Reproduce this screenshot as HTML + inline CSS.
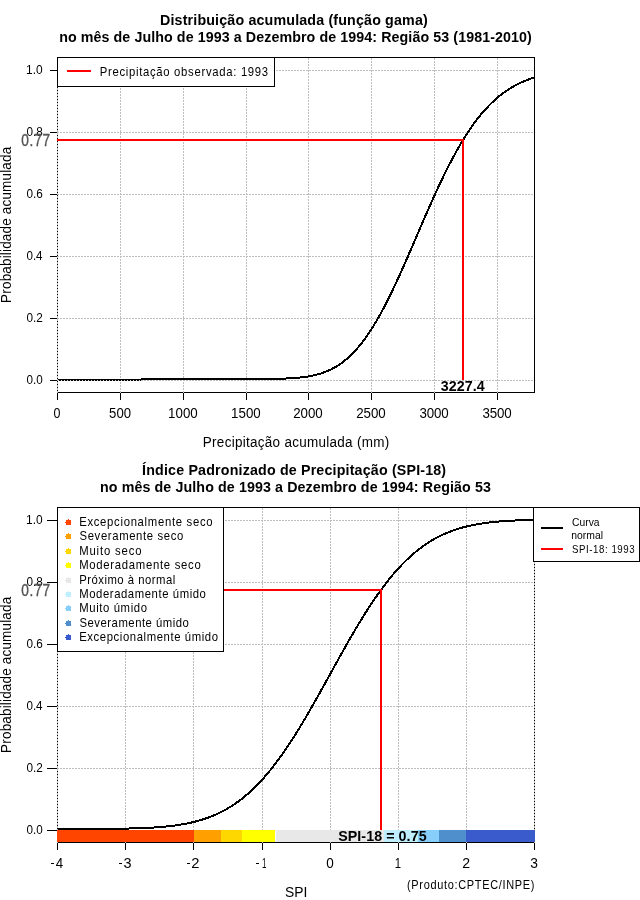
<!DOCTYPE html><html><head><meta charset="utf-8"><style>html,body{margin:0;padding:0;background:#fff;}svg{display:block;}text{font-family:"Liberation Sans",sans-serif;white-space:pre;}</style></head><body>
<svg style="will-change:transform" width="640" height="900" viewBox="0 0 640 900">
<rect width="640" height="900" fill="#fff"/>
<line x1="57" y1="57.5" x2="535" y2="57.5" stroke="#000" stroke-width="1"/>
<line x1="57" y1="392.5" x2="535" y2="392.5" stroke="#000" stroke-width="1"/>
<line x1="57.5" y1="57" x2="57.5" y2="393" stroke="#000" stroke-width="1"/>
<line x1="534.5" y1="57" x2="534.5" y2="393" stroke="#000" stroke-width="1"/>
<line x1="57.5" y1="57" x2="57.5" y2="393" stroke="#bebebe" stroke-width="1" stroke-dasharray="2 1" stroke-dashoffset="2"/>
<line x1="120.5" y1="57" x2="120.5" y2="393" stroke="#bebebe" stroke-width="1" stroke-dasharray="2 1" stroke-dashoffset="2"/>
<line x1="183.5" y1="57" x2="183.5" y2="393" stroke="#bebebe" stroke-width="1" stroke-dasharray="2 1" stroke-dashoffset="2"/>
<line x1="246.5" y1="57" x2="246.5" y2="393" stroke="#bebebe" stroke-width="1" stroke-dasharray="2 1" stroke-dashoffset="2"/>
<line x1="308.5" y1="57" x2="308.5" y2="393" stroke="#bebebe" stroke-width="1" stroke-dasharray="2 1" stroke-dashoffset="2"/>
<line x1="371.5" y1="57" x2="371.5" y2="393" stroke="#bebebe" stroke-width="1" stroke-dasharray="2 1" stroke-dashoffset="2"/>
<line x1="434.5" y1="57" x2="434.5" y2="393" stroke="#bebebe" stroke-width="1" stroke-dasharray="2 1" stroke-dashoffset="2"/>
<line x1="497.5" y1="57" x2="497.5" y2="393" stroke="#bebebe" stroke-width="1" stroke-dasharray="2 1" stroke-dashoffset="2"/>
<line x1="57" y1="70.5" x2="534" y2="70.5" stroke="#bebebe" stroke-width="1" stroke-dasharray="2 1"/>
<line x1="57" y1="132.5" x2="534" y2="132.5" stroke="#bebebe" stroke-width="1" stroke-dasharray="2 1"/>
<line x1="57" y1="194.5" x2="534" y2="194.5" stroke="#bebebe" stroke-width="1" stroke-dasharray="2 1"/>
<line x1="57" y1="256.5" x2="534" y2="256.5" stroke="#bebebe" stroke-width="1" stroke-dasharray="2 1"/>
<line x1="57" y1="318.5" x2="534" y2="318.5" stroke="#bebebe" stroke-width="1" stroke-dasharray="2 1"/>
<line x1="57" y1="380.5" x2="534" y2="380.5" stroke="#bebebe" stroke-width="1" stroke-dasharray="2 1"/>
<line x1="50" y1="70.5" x2="57" y2="70.5" stroke="#000" stroke-width="1"/>
<line x1="50" y1="132.5" x2="57" y2="132.5" stroke="#000" stroke-width="1"/>
<line x1="50" y1="194.5" x2="57" y2="194.5" stroke="#000" stroke-width="1"/>
<line x1="50" y1="256.5" x2="57" y2="256.5" stroke="#000" stroke-width="1"/>
<line x1="50" y1="318.5" x2="57" y2="318.5" stroke="#000" stroke-width="1"/>
<line x1="50" y1="380.5" x2="57" y2="380.5" stroke="#000" stroke-width="1"/>
<line x1="57.5" y1="393" x2="57.5" y2="400" stroke="#000" stroke-width="1"/>
<line x1="120.5" y1="393" x2="120.5" y2="400" stroke="#000" stroke-width="1"/>
<line x1="183.5" y1="393" x2="183.5" y2="400" stroke="#000" stroke-width="1"/>
<line x1="246.5" y1="393" x2="246.5" y2="400" stroke="#000" stroke-width="1"/>
<line x1="308.5" y1="393" x2="308.5" y2="400" stroke="#000" stroke-width="1"/>
<line x1="371.5" y1="393" x2="371.5" y2="400" stroke="#000" stroke-width="1"/>
<line x1="434.5" y1="393" x2="434.5" y2="400" stroke="#000" stroke-width="1"/>
<line x1="497.5" y1="393" x2="497.5" y2="400" stroke="#000" stroke-width="1"/>
<text x="26.06" y="74.00" font-size="13" font-weight="normal" fill="#000" textLength="16.61" lengthAdjust="spacingAndGlyphs" >1.0</text>
<text x="26.43" y="136.00" font-size="13" font-weight="normal" fill="#000" textLength="16.36" lengthAdjust="spacingAndGlyphs" >0.8</text>
<text x="26.43" y="198.00" font-size="13" font-weight="normal" fill="#000" textLength="16.36" lengthAdjust="spacingAndGlyphs" >0.6</text>
<text x="26.44" y="260.00" font-size="13" font-weight="normal" fill="#000" textLength="16.11" lengthAdjust="spacingAndGlyphs" >0.4</text>
<text x="26.43" y="322.00" font-size="13" font-weight="normal" fill="#000" textLength="16.36" lengthAdjust="spacingAndGlyphs" >0.2</text>
<text x="26.43" y="384.00" font-size="13" font-weight="normal" fill="#000" textLength="16.23" lengthAdjust="spacingAndGlyphs" >0.0</text>
<text x="53.60" y="418.00" font-size="15.3" font-weight="normal" fill="#000" textLength="6.95" lengthAdjust="spacingAndGlyphs" >0</text>
<text x="109.12" y="418.00" font-size="15.3" font-weight="normal" fill="#000" textLength="21.93" lengthAdjust="spacingAndGlyphs" >500</text>
<text x="0" y="0" transform="translate(167.99,418.00) scale(0.87,1)" font-size="15.3" font-weight="normal" fill="#000" textLength="34.23" lengthAdjust="spacing" >1000</text>
<text x="0" y="0" transform="translate(230.99,418.00) scale(0.87,1)" font-size="15.3" font-weight="normal" fill="#000" textLength="34.23" lengthAdjust="spacing" >1500</text>
<text x="0" y="0" transform="translate(293.26,418.00) scale(0.87,1)" font-size="15.3" font-weight="normal" fill="#000" textLength="33.83" lengthAdjust="spacing" >2000</text>
<text x="0" y="0" transform="translate(356.26,418.00) scale(0.87,1)" font-size="15.3" font-weight="normal" fill="#000" textLength="33.83" lengthAdjust="spacing" >2500</text>
<text x="0" y="0" transform="translate(419.39,418.00) scale(0.87,1)" font-size="15.3" font-weight="normal" fill="#000" textLength="33.62" lengthAdjust="spacing" >3000</text>
<text x="0" y="0" transform="translate(482.39,418.00) scale(0.87,1)" font-size="15.3" font-weight="normal" fill="#000" textLength="33.62" lengthAdjust="spacing" >3500</text>
<polyline points="141.00,379.00 141.79,379.00 142.58,379.00 143.37,379.00 144.15,379.00 144.94,379.00 145.73,379.00 146.52,379.00 147.31,379.00 148.10,379.00 148.88,379.00 149.67,379.00 150.46,379.00 151.25,379.00 152.04,379.00 152.83,379.00 153.61,379.00 154.40,379.00 155.19,379.00 155.98,379.00 156.77,379.00 157.56,379.00 158.34,379.00 159.13,379.00 159.92,379.00 160.71,379.00 161.50,379.00 162.29,379.00 163.07,379.00 163.86,379.00 164.65,379.00 165.44,379.00 166.23,379.00 167.02,379.00 167.80,379.00 168.59,379.00 169.38,379.00 170.17,379.00 170.96,379.00 171.75,379.00 172.53,379.00 173.32,379.00 174.11,379.00 174.90,379.00 175.69,379.00 176.48,379.00 177.26,379.00 178.05,379.00 178.84,379.00 179.63,379.00 180.42,379.00 181.21,379.00 181.99,379.00 182.78,379.00 183.57,379.00 184.36,379.00 185.15,379.00 185.94,379.00 186.72,379.00 187.51,379.00 188.30,379.00 189.09,379.00 189.88,379.00 190.67,379.00 191.45,379.00 192.24,379.00 193.03,379.00 193.82,379.00 194.61,379.00 195.40,379.00 196.18,379.00 196.97,379.00 197.76,379.00 198.55,379.00 199.34,379.00 200.13,379.00 200.91,379.00 201.70,379.00 202.49,379.00 203.28,379.00 204.07,379.00 204.86,379.00 205.64,379.00 206.43,379.00 207.22,379.00 208.01,379.00 208.80,379.00 209.59,379.00 210.37,379.00 211.16,379.00 211.95,379.00 212.74,379.00 213.53,379.00 214.32,379.00 215.10,379.00 215.89,379.00 216.68,379.00 217.47,379.00 218.26,379.00 219.05,379.00 219.83,379.00 220.62,379.00 221.41,379.00 222.20,379.00 222.99,379.00 223.78,379.00 224.56,379.00 225.35,379.00 226.14,379.00 226.93,379.00 227.72,379.00 228.51,379.00 229.29,379.00 230.08,379.00 230.87,379.00 231.66,379.00 232.45,379.00 233.24,379.00 234.02,379.00 234.81,379.00 235.60,379.00 236.39,379.00 237.18,379.00 237.97,379.00 238.75,379.00 239.54,379.00 240.33,379.00 241.12,379.00 241.91,379.00 242.70,378.99 243.48,378.99 244.27,378.99 245.06,378.99 245.85,378.99 246.64,378.99 247.43,378.99 248.21,378.99 249.00,378.99 249.79,378.99 250.58,378.99 251.37,378.98 252.16,378.98 252.94,378.98 253.73,378.98 254.52,378.98 255.31,378.98 256.10,378.97 256.89,378.97 257.67,378.97 258.46,378.97 259.25,378.96 260.04,378.96 260.83,378.96 261.62,378.95 262.40,378.95 263.19,378.94 263.98,378.94 264.77,378.93 265.56,378.93 266.35,378.92 267.13,378.91 267.92,378.91 268.71,378.90 269.50,378.89 270.29,378.88 271.08,378.87 271.86,378.86 272.65,378.85 273.44,378.84 274.23,378.83 275.02,378.81 275.81,378.80 276.59,378.78 277.38,378.77 278.17,378.75 278.96,378.73 279.75,378.71 280.54,378.69 281.32,378.67 282.11,378.65 282.90,378.62 283.69,378.60 284.48,378.57 285.27,378.54 286.05,378.51 286.84,378.47 287.63,378.44 288.42,378.40 289.21,378.36 290.00,378.32 290.78,378.28 291.57,378.23 292.36,378.18 293.15,378.13 293.94,378.08 294.73,378.02 295.51,377.96 296.30,377.90 297.09,377.83 297.88,377.76 298.67,377.68 299.46,377.61 300.24,377.53 301.03,377.44 301.82,377.35 302.61,377.26 303.40,377.16 304.19,377.06 304.97,376.95 305.76,376.84 306.55,376.72 307.34,376.59 308.13,376.47 308.92,376.33 309.70,376.19 310.49,376.04 311.28,375.89 312.07,375.73 312.86,375.57 313.65,375.39 314.43,375.21 315.22,375.03 316.01,374.83 316.80,374.63 317.59,374.42 318.38,374.20 319.16,373.97 319.95,373.74 320.74,373.49 321.53,373.24 322.32,372.97 323.11,372.70 323.89,372.42 324.68,372.13 325.47,371.82 326.26,371.51 327.05,371.19 327.84,370.85 328.62,370.50 329.41,370.15 330.20,369.78 330.99,369.39 331.78,369.00 332.57,368.59 333.35,368.18 334.14,367.74 334.93,367.30 335.72,366.84 336.51,366.37 337.30,365.88 338.08,365.38 338.87,364.87 339.66,364.34 340.45,363.80 341.24,363.24 342.03,362.67 342.81,362.08 343.60,361.48 344.39,360.86 345.18,360.22 345.97,359.57 346.76,358.90 347.54,358.22 348.33,357.52 349.12,356.80 349.91,356.07 350.70,355.32 351.49,354.55 352.27,353.76 353.06,352.96 353.85,352.14 354.64,351.30 355.43,350.44 356.22,349.57 357.00,348.68 357.79,347.77 358.58,346.84 359.37,345.90 360.16,344.93 360.95,343.95 361.73,342.95 362.52,341.93 363.31,340.90 364.10,339.84 364.89,338.77 365.68,337.68 366.46,336.57 367.25,335.44 368.04,334.29 368.83,333.13 369.62,331.94 370.41,330.74 371.19,329.52 371.98,328.29 372.77,327.03 373.56,325.76 374.35,324.47 375.14,323.16 375.92,321.84 376.71,320.50 377.50,319.14 378.29,317.77 379.08,316.37 379.87,314.97 380.65,313.54 381.44,312.10 382.23,310.65 383.02,309.17 383.81,307.69 384.60,306.19 385.38,304.67 386.17,303.14 386.96,301.59 387.75,300.03 388.54,298.46 389.33,296.87 390.11,295.27 390.90,293.66 391.69,292.03 392.48,290.39 393.27,288.74 394.06,287.08 394.84,285.41 395.63,283.73 396.42,282.03 397.21,280.33 398.00,278.62 398.79,276.89 399.58,275.16 400.36,273.42 401.15,271.67 401.94,269.91 402.73,268.15 403.52,266.37 404.31,264.60 405.09,262.81 405.88,261.02 406.67,259.22 407.46,257.42 408.25,255.61 409.04,253.80 409.82,251.99 410.61,250.17 411.40,248.35 412.19,246.52 412.98,244.70 413.77,242.87 414.55,241.04 415.34,239.21 416.13,237.38 416.92,235.54 417.71,233.71 418.50,231.88 419.28,230.05 420.07,228.22 420.86,226.39 421.65,224.57 422.44,222.74 423.23,220.92 424.01,219.11 424.80,217.30 425.59,215.49 426.38,213.68 427.17,211.88 427.96,210.09 428.74,208.30 429.53,206.52 430.32,204.74 431.11,202.97 431.90,201.20 432.69,199.45 433.47,197.70 434.26,195.96 435.05,194.22 435.84,192.50 436.63,190.78 437.42,189.08 438.20,187.38 438.99,185.69 439.78,184.01 440.57,182.35 441.36,180.69 442.15,179.04 442.93,177.41 443.72,175.78 444.51,174.17 445.30,172.57 446.09,170.98 446.88,169.40 447.66,167.83 448.45,166.28 449.24,164.74 450.03,163.21 450.82,161.70 451.61,160.20 452.39,158.71 453.18,157.23 453.97,155.77 454.76,154.32 455.55,152.89 456.34,151.47 457.12,150.07 457.91,148.67 458.70,147.30 459.49,145.93 460.28,144.59 461.07,143.25 461.85,141.93 462.64,140.63 463.43,139.34 464.22,138.07 465.01,136.81 465.80,135.56 466.58,134.33 467.37,133.12 468.16,131.92 468.95,130.73 469.74,129.56 470.53,128.41 471.31,127.27 472.10,126.14 472.89,125.03 473.68,123.94 474.47,122.86 475.26,121.79 476.04,120.74 476.83,119.71 477.62,118.69 478.41,117.68 479.20,116.69 479.99,115.71 480.77,114.75 481.56,113.81 482.35,112.87 483.14,111.95 483.93,111.05 484.72,110.16 485.50,109.28 486.29,108.42 487.08,107.57 487.87,106.74 488.66,105.92 489.45,105.11 490.23,104.32 491.02,103.54 491.81,102.77 492.60,102.02 493.39,101.28 494.18,100.55 494.96,99.84 495.75,99.14 496.54,98.45 497.33,97.77 498.12,97.11 498.91,96.46 499.69,95.82 500.48,95.19 501.27,94.57 502.06,93.97 502.85,93.37 503.64,92.79 504.42,92.22 505.21,91.66 506.00,91.11 506.79,90.58 507.58,90.05 508.37,89.53 509.15,89.03 509.94,88.53 510.73,88.05 511.52,87.57 512.31,87.11 513.10,86.65 513.88,86.21 514.67,85.77 515.46,85.34 516.25,84.92 517.04,84.52 517.83,84.11 518.61,83.72 519.40,83.34 520.19,82.97 520.98,82.60 521.77,82.24 522.56,81.89 523.34,81.55 524.13,81.22 524.92,80.89 525.71,80.57 526.50,80.26 527.29,79.95 528.07,79.66 528.86,79.37 529.65,79.08 530.44,78.80 531.23,78.53 532.02,78.27 532.80,78.01 533.59,77.76 534.38,77.52" fill="none" stroke="#000" stroke-width="2" stroke-linejoin="round" shape-rendering="crispEdges"/>
<rect x="58" y="379" width="83" height="2" fill="#000"/>
<line x1="57" y1="380.5" x2="141" y2="380.5" stroke="#d8d8d8" stroke-width="1" stroke-dasharray="1 2" stroke-dashoffset="2"/>
<rect x="57" y="139" width="407" height="2" fill="#ff0000"/>
<rect x="462" y="139" width="2" height="241" fill="#ff0000"/>
<rect x="57" y="57" width="218" height="30" fill="#fff"/>
<line x1="57" y1="57.5" x2="275" y2="57.5" stroke="#000" stroke-width="1"/>
<line x1="57" y1="86.5" x2="275" y2="86.5" stroke="#000" stroke-width="1"/>
<line x1="57.5" y1="57" x2="57.5" y2="87" stroke="#000" stroke-width="1"/>
<line x1="274.5" y1="57" x2="274.5" y2="87" stroke="#000" stroke-width="1"/>
<rect x="67" y="70" width="24" height="2" fill="#ff0000"/>
<text x="0" y="0" transform="translate(99.70,76.00) scale(0.87,1)" font-size="13" font-weight="normal" fill="#000" textLength="193.61" lengthAdjust="spacing" >Precipitação observada: 1993</text>
<text x="0" y="0" transform="translate(21.20,146.00) scale(0.87,1)" font-size="15.7" font-weight="normal" fill="#555" textLength="33.23" lengthAdjust="spacing" stroke="#555" stroke-width="0.35">0.77</text>
<text x="0" y="0" transform="translate(440.71,391.00) scale(0.92,1)" font-size="15.5" font-weight="bold" fill="#000" textLength="47.91" lengthAdjust="spacing" >3227.4</text>
<text x="0" y="0" transform="translate(160.00,25.00) scale(0.92,1)" font-size="15.5" font-weight="bold" fill="#000" textLength="291.02" lengthAdjust="spacing" >Distribuição acumulada (função gama)</text>
<text x="0" y="0" transform="translate(59.14,42.00) scale(0.92,1)" font-size="15.5" font-weight="bold" fill="#000" textLength="513.80" lengthAdjust="spacing" >no mês de Julho de 1993 a Dezembro de 1994: Região 53 (1981-2010)</text>
<text x="0" y="0" transform="translate(202.82,447.00) scale(0.87,1)" font-size="15.5" font-weight="normal" fill="#000" textLength="214.23" lengthAdjust="spacing" >Precipitação acumulada (mm)</text>
<text x="0" y="0" transform="translate(11.00,302.88) rotate(-90) scale(0.87,1)" font-size="15.5" font-weight="normal" fill="#000" textLength="179.40" lengthAdjust="spacing">Probabilidade acumulada</text>
<line x1="57" y1="507.5" x2="535" y2="507.5" stroke="#000" stroke-width="1"/>
<line x1="57" y1="842.5" x2="535" y2="842.5" stroke="#000" stroke-width="1"/>
<line x1="57.5" y1="507" x2="57.5" y2="843" stroke="#000" stroke-width="1"/>
<line x1="534.5" y1="507" x2="534.5" y2="843" stroke="#000" stroke-width="1"/>
<line x1="57.5" y1="507" x2="57.5" y2="843" stroke="#bebebe" stroke-width="1" stroke-dasharray="2 1" stroke-dashoffset="2"/>
<line x1="125.5" y1="507" x2="125.5" y2="843" stroke="#bebebe" stroke-width="1" stroke-dasharray="2 1" stroke-dashoffset="2"/>
<line x1="193.5" y1="507" x2="193.5" y2="843" stroke="#bebebe" stroke-width="1" stroke-dasharray="2 1" stroke-dashoffset="2"/>
<line x1="262.5" y1="507" x2="262.5" y2="843" stroke="#bebebe" stroke-width="1" stroke-dasharray="2 1" stroke-dashoffset="2"/>
<line x1="330.5" y1="507" x2="330.5" y2="843" stroke="#bebebe" stroke-width="1" stroke-dasharray="2 1" stroke-dashoffset="2"/>
<line x1="398.5" y1="507" x2="398.5" y2="843" stroke="#bebebe" stroke-width="1" stroke-dasharray="2 1" stroke-dashoffset="2"/>
<line x1="466.5" y1="507" x2="466.5" y2="843" stroke="#bebebe" stroke-width="1" stroke-dasharray="2 1" stroke-dashoffset="2"/>
<line x1="534.5" y1="507" x2="534.5" y2="843" stroke="#bebebe" stroke-width="1" stroke-dasharray="2 1" stroke-dashoffset="2"/>
<line x1="57" y1="520.5" x2="534" y2="520.5" stroke="#bebebe" stroke-width="1" stroke-dasharray="2 1"/>
<line x1="57" y1="582.5" x2="534" y2="582.5" stroke="#bebebe" stroke-width="1" stroke-dasharray="2 1"/>
<line x1="57" y1="644.5" x2="534" y2="644.5" stroke="#bebebe" stroke-width="1" stroke-dasharray="2 1"/>
<line x1="57" y1="706.5" x2="534" y2="706.5" stroke="#bebebe" stroke-width="1" stroke-dasharray="2 1"/>
<line x1="57" y1="768.5" x2="534" y2="768.5" stroke="#bebebe" stroke-width="1" stroke-dasharray="2 1"/>
<line x1="57" y1="830.5" x2="534" y2="830.5" stroke="#bebebe" stroke-width="1" stroke-dasharray="2 1"/>
<line x1="47" y1="520.5" x2="57" y2="520.5" stroke="#000" stroke-width="1"/>
<line x1="47" y1="582.5" x2="57" y2="582.5" stroke="#000" stroke-width="1"/>
<line x1="47" y1="644.5" x2="57" y2="644.5" stroke="#000" stroke-width="1"/>
<line x1="47" y1="706.5" x2="57" y2="706.5" stroke="#000" stroke-width="1"/>
<line x1="47" y1="768.5" x2="57" y2="768.5" stroke="#000" stroke-width="1"/>
<line x1="47" y1="830.5" x2="57" y2="830.5" stroke="#000" stroke-width="1"/>
<line x1="57.5" y1="843" x2="57.5" y2="850" stroke="#000" stroke-width="1"/>
<line x1="125.5" y1="843" x2="125.5" y2="850" stroke="#000" stroke-width="1"/>
<line x1="193.5" y1="843" x2="193.5" y2="850" stroke="#000" stroke-width="1"/>
<line x1="262.5" y1="843" x2="262.5" y2="850" stroke="#000" stroke-width="1"/>
<line x1="330.5" y1="843" x2="330.5" y2="850" stroke="#000" stroke-width="1"/>
<line x1="398.5" y1="843" x2="398.5" y2="850" stroke="#000" stroke-width="1"/>
<line x1="466.5" y1="843" x2="466.5" y2="850" stroke="#000" stroke-width="1"/>
<line x1="534.5" y1="843" x2="534.5" y2="850" stroke="#000" stroke-width="1"/>
<text x="26.06" y="524.00" font-size="13" font-weight="normal" fill="#000" textLength="16.61" lengthAdjust="spacingAndGlyphs" >1.0</text>
<text x="26.43" y="586.00" font-size="13" font-weight="normal" fill="#000" textLength="16.36" lengthAdjust="spacingAndGlyphs" >0.8</text>
<text x="26.43" y="648.00" font-size="13" font-weight="normal" fill="#000" textLength="16.36" lengthAdjust="spacingAndGlyphs" >0.6</text>
<text x="26.44" y="710.00" font-size="13" font-weight="normal" fill="#000" textLength="16.11" lengthAdjust="spacingAndGlyphs" >0.4</text>
<text x="26.43" y="772.00" font-size="13" font-weight="normal" fill="#000" textLength="16.36" lengthAdjust="spacingAndGlyphs" >0.2</text>
<text x="26.43" y="834.00" font-size="13" font-weight="normal" fill="#000" textLength="16.23" lengthAdjust="spacingAndGlyphs" >0.0</text>
<rect x="51" y="863" width="3" height="1" fill="#000"/>
<text x="55.73" y="868.00" font-size="15.3" font-weight="normal" fill="#000" textLength="7.41" lengthAdjust="spacingAndGlyphs" >4</text>
<rect x="119" y="863" width="3" height="1" fill="#000"/>
<text x="123.42" y="868.00" font-size="15.3" font-weight="normal" fill="#000" textLength="8.05" lengthAdjust="spacingAndGlyphs" >3</text>
<rect x="187" y="863" width="3" height="1" fill="#000"/>
<text x="191.26" y="868.00" font-size="15.3" font-weight="normal" fill="#000" textLength="8.22" lengthAdjust="spacingAndGlyphs" >2</text>
<rect x="256" y="863" width="3" height="1" fill="#000"/>
<text x="261.94" y="868.00" font-size="15.3" font-weight="normal" fill="#000" textLength="4.42" lengthAdjust="spacingAndGlyphs" >1</text>
<text x="326.31" y="868.00" font-size="15.3" font-weight="normal" fill="#000" textLength="7.53" lengthAdjust="spacingAndGlyphs" >0</text>
<text x="394.70" y="868.00" font-size="15.3" font-weight="normal" fill="#000" textLength="6.32" lengthAdjust="spacingAndGlyphs" >1</text>
<text x="462.14" y="868.00" font-size="15.3" font-weight="normal" fill="#000" textLength="7.86" lengthAdjust="spacingAndGlyphs" >2</text>
<text x="530.30" y="868.00" font-size="15.3" font-weight="normal" fill="#000" textLength="7.69" lengthAdjust="spacingAndGlyphs" >3</text>
<polyline points="57.50,828.99 58.46,828.99 59.41,828.99 60.37,828.99 61.32,828.99 62.28,828.99 63.24,828.99 64.19,828.99 65.15,828.98 66.10,828.98 67.06,828.98 68.02,828.98 68.97,828.98 69.93,828.98 70.88,828.98 71.84,828.98 72.79,828.98 73.75,828.97 74.71,828.97 75.66,828.97 76.62,828.97 77.57,828.97 78.53,828.97 79.49,828.96 80.44,828.96 81.40,828.96 82.35,828.96 83.31,828.95 84.27,828.95 85.22,828.95 86.18,828.95 87.13,828.94 88.09,828.94 89.05,828.94 90.00,828.93 90.96,828.93 91.91,828.93 92.87,828.92 93.82,828.92 94.78,828.91 95.74,828.91 96.69,828.90 97.65,828.90 98.60,828.89 99.56,828.89 100.52,828.88 101.47,828.88 102.43,828.87 103.38,828.86 104.34,828.86 105.30,828.85 106.25,828.84 107.21,828.83 108.16,828.83 109.12,828.82 110.08,828.81 111.03,828.80 111.99,828.79 112.94,828.78 113.90,828.77 114.85,828.75 115.81,828.74 116.77,828.73 117.72,828.72 118.68,828.70 119.63,828.69 120.59,828.67 121.55,828.66 122.50,828.64 123.46,828.62 124.41,828.61 125.37,828.59 126.33,828.57 127.28,828.55 128.24,828.53 129.19,828.50 130.15,828.48 131.11,828.46 132.06,828.43 133.02,828.41 133.97,828.38 134.93,828.35 135.88,828.32 136.84,828.29 137.80,828.26 138.75,828.23 139.71,828.19 140.66,828.16 141.62,828.12 142.58,828.08 143.53,828.04 144.49,828.00 145.44,827.96 146.40,827.91 147.36,827.87 148.31,827.82 149.27,827.77 150.22,827.71 151.18,827.66 152.14,827.60 153.09,827.55 154.05,827.49 155.00,827.42 155.96,827.36 156.92,827.29 157.87,827.22 158.83,827.15 159.78,827.07 160.74,827.00 161.69,826.91 162.65,826.83 163.61,826.75 164.56,826.66 165.52,826.56 166.47,826.47 167.43,826.37 168.39,826.27 169.34,826.16 170.30,826.05 171.25,825.94 172.21,825.82 173.17,825.70 174.12,825.58 175.08,825.45 176.03,825.32 176.99,825.18 177.95,825.04 178.90,824.90 179.86,824.75 180.81,824.59 181.77,824.43 182.72,824.27 183.68,824.10 184.64,823.92 185.59,823.74 186.55,823.55 187.50,823.36 188.46,823.17 189.42,822.96 190.37,822.76 191.33,822.54 192.28,822.32 193.24,822.09 194.20,821.86 195.15,821.62 196.11,821.37 197.06,821.12 198.02,820.85 198.98,820.59 199.93,820.31 200.89,820.03 201.84,819.74 202.80,819.44 203.75,819.13 204.71,818.82 205.67,818.49 206.62,818.16 207.58,817.82 208.53,817.47 209.49,817.11 210.45,816.75 211.40,816.37 212.36,815.99 213.31,815.59 214.27,815.19 215.23,814.78 216.18,814.35 217.14,813.92 218.09,813.47 219.05,813.02 220.01,812.56 220.96,812.08 221.92,811.59 222.87,811.10 223.83,810.59 224.78,810.07 225.74,809.54 226.70,809.00 227.65,808.44 228.61,807.88 229.56,807.30 230.52,806.71 231.48,806.11 232.43,805.49 233.39,804.87 234.34,804.23 235.30,803.58 236.26,802.91 237.21,802.23 238.17,801.54 239.12,800.84 240.08,800.12 241.04,799.39 241.99,798.65 242.95,797.89 243.90,797.12 244.86,796.33 245.82,795.53 246.77,794.72 247.73,793.89 248.68,793.05 249.64,792.19 250.59,791.32 251.55,790.44 252.51,789.54 253.46,788.62 254.42,787.70 255.37,786.75 256.33,785.80 257.29,784.83 258.24,783.84 259.20,782.84 260.15,781.82 261.11,780.79 262.07,779.75 263.02,778.69 263.98,777.61 264.93,776.52 265.89,775.42 266.85,774.30 267.80,773.17 268.76,772.02 269.71,770.85 270.67,769.68 271.62,768.49 272.58,767.28 273.54,766.06 274.49,764.82 275.45,763.57 276.40,762.31 277.36,761.03 278.32,759.74 279.27,758.44 280.23,757.12 281.18,755.79 282.14,754.44 283.10,753.08 284.05,751.71 285.01,750.32 285.96,748.93 286.92,747.51 287.88,746.09 288.83,744.66 289.79,743.21 290.74,741.75 291.70,740.27 292.65,738.79 293.61,737.29 294.57,735.79 295.52,734.27 296.48,732.74 297.43,731.20 298.39,729.65 299.35,728.09 300.30,726.52 301.26,724.94 302.21,723.36 303.17,721.76 304.13,720.15 305.08,718.54 306.04,716.91 306.99,715.28 307.95,713.64 308.91,712.00 309.86,710.34 310.82,708.68 311.77,707.01 312.73,705.34 313.68,703.66 314.64,701.97 315.60,700.28 316.55,698.59 317.51,696.89 318.46,695.18 319.42,693.47 320.38,691.76 321.33,690.04 322.29,688.32 323.24,686.60 324.20,684.88 325.16,683.15 326.11,681.42 327.07,679.69 328.02,677.96 328.98,676.23 329.94,674.50 330.89,672.77 331.85,671.03 332.80,669.30 333.76,667.57 334.72,665.84 335.67,664.12 336.63,662.39 337.58,660.67 338.54,658.95 339.49,657.23 340.45,655.52 341.41,653.81 342.36,652.10 343.32,650.40 344.27,648.70 345.23,647.01 346.19,645.32 347.14,643.64 348.10,641.96 349.05,640.30 350.01,638.63 350.97,636.98 351.92,635.33 352.88,633.69 353.83,632.05 354.79,630.43 355.75,628.81 356.70,627.20 357.66,625.60 358.61,624.01 359.57,622.43 360.52,620.85 361.48,619.29 362.44,617.74 363.39,616.20 364.35,614.67 365.30,613.14 366.26,611.63 367.22,610.14 368.17,608.65 369.13,607.17 370.08,605.71 371.04,604.26 372.00,602.82 372.95,601.39 373.91,599.98 374.86,598.57 375.82,597.18 376.78,595.81 377.73,594.45 378.69,593.10 379.64,591.76 380.60,590.44 381.55,589.13 382.51,587.83 383.47,586.55 384.42,585.29 385.38,584.03 386.33,582.79 387.29,581.57 388.25,580.36 389.20,579.16 390.16,577.98 391.11,576.81 392.07,575.66 393.03,574.52 393.98,573.40 394.94,572.29 395.89,571.20 396.85,570.12 397.81,569.06 398.76,568.01 399.72,566.97 400.67,565.95 401.63,564.95 402.58,563.96 403.54,562.98 404.50,562.02 405.45,561.07 406.41,560.14 407.36,559.22 408.32,558.32 409.28,557.43 410.23,556.56 411.19,555.70 412.14,554.85 413.10,554.02 414.06,553.20 415.01,552.40 415.97,551.61 416.92,550.83 417.88,550.07 418.84,549.32 419.79,548.59 420.75,547.87 421.70,547.16 422.66,546.46 423.61,545.78 424.57,545.11 425.53,544.46 426.48,543.81 427.44,543.18 428.39,542.57 429.35,541.96 430.31,541.37 431.26,540.79 432.22,540.22 433.17,539.66 434.13,539.11 435.09,538.58 436.04,538.06 437.00,537.55 437.95,537.05 438.91,536.56 439.87,536.08 440.82,535.61 441.78,535.15 442.73,534.71 443.69,534.27 444.65,533.84 445.60,533.43 446.56,533.02 447.51,532.62 448.47,532.24 449.42,531.86 450.38,531.49 451.34,531.13 452.29,530.78 453.25,530.44 454.20,530.10 455.16,529.78 456.12,529.46 457.07,529.15 458.03,528.85 458.98,528.56 459.94,528.27 460.90,527.99 461.85,527.72 462.81,527.46 463.76,527.20 464.72,526.95 465.68,526.71 466.63,526.47 467.59,526.25 468.54,526.02 469.50,525.81 470.45,525.60 471.41,525.39 472.37,525.19 473.32,525.00 474.28,524.81 475.23,524.63 476.19,524.45 477.15,524.28 478.10,524.12 479.06,523.95 480.01,523.80 480.97,523.65 481.93,523.50 482.88,523.36 483.84,523.22 484.79,523.09 485.75,522.96 486.71,522.83 487.66,522.71 488.62,522.59 489.57,522.48 490.53,522.37 491.48,522.26 492.44,522.16 493.40,522.06 494.35,521.96 495.31,521.87 496.26,521.78 497.22,521.69 498.18,521.61 499.13,521.53 500.09,521.45 501.04,521.37 502.00,521.30 502.96,521.23 503.91,521.16 504.87,521.10 505.82,521.03 506.78,520.97 507.74,520.91 508.69,520.86 509.65,520.80 510.60,520.75 511.56,520.70 512.51,520.65 513.47,520.60 514.43,520.56 515.38,520.51 516.34,520.47 517.29,520.43 518.25,520.39 519.21,520.35 520.16,520.32 521.12,520.28 522.07,520.25 523.03,520.22 523.99,520.19 524.94,520.16 525.90,520.13 526.85,520.10 527.81,520.07 528.77,520.05 529.72,520.02 530.68,520.00 531.63,519.98 532.59,519.96 533.55,519.94 534.50,519.92" fill="none" stroke="#000" stroke-width="2" stroke-linejoin="round" shape-rendering="crispEdges"/>
<rect x="57" y="589" width="325" height="2" fill="#ff0000"/>
<rect x="380" y="589" width="2" height="241" fill="#ff0000"/>
<rect x="57" y="830" width="137" height="12" fill="#ff4500"/>
<rect x="194" y="830" width="27" height="12" fill="#ffa000"/>
<rect x="221" y="830" width="21" height="12" fill="#ffd700"/>
<rect x="242" y="830" width="33" height="12" fill="#ffff00"/>
<rect x="275" y="830" width="1" height="12" fill="#f8f8ff"/>
<rect x="276" y="830" width="108" height="12" fill="#e8e8e8"/>
<rect x="384" y="830" width="34" height="12" fill="#bfeeff"/>
<rect x="418" y="830" width="21" height="12" fill="#87cefa"/>
<rect x="439" y="830" width="27" height="12" fill="#4f8fcc"/>
<rect x="466" y="830" width="69" height="12" fill="#3a5bcc"/>
<text x="0" y="0" transform="translate(338.17,841.00) scale(0.92,1)" font-size="15.5" font-weight="bold" fill="#000" textLength="96.10" lengthAdjust="spacing" >SPI-18 = 0.75</text>
<rect x="57" y="507" width="167" height="145" fill="#fff"/>
<line x1="57" y1="507.5" x2="224" y2="507.5" stroke="#000" stroke-width="1"/>
<line x1="57" y1="651.5" x2="224" y2="651.5" stroke="#000" stroke-width="1"/>
<line x1="57.5" y1="507" x2="57.5" y2="652" stroke="#000" stroke-width="1"/>
<line x1="223.5" y1="507" x2="223.5" y2="652" stroke="#000" stroke-width="1"/>
<rect x="66" y="520" width="5" height="5" fill="#ff4500"/>
<rect x="68" y="519" width="1" height="1" fill="#ff4500"/>
<rect x="65" y="522" width="1" height="1" fill="#ff4500"/>
<text x="0" y="0" transform="translate(79.20,526.00) scale(0.87,1)" font-size="13" font-weight="normal" fill="#000" textLength="153.25" lengthAdjust="spacing" >Excepcionalmente seco</text>
<rect x="66" y="534" width="5" height="5" fill="#ffa000"/>
<rect x="68" y="533" width="1" height="1" fill="#ffa000"/>
<rect x="65" y="536" width="1" height="1" fill="#ffa000"/>
<text x="0" y="0" transform="translate(79.53,540.00) scale(0.87,1)" font-size="13" font-weight="normal" fill="#000" textLength="119.29" lengthAdjust="spacing" >Severamente seco</text>
<rect x="66" y="549" width="5" height="5" fill="#ffd700"/>
<rect x="68" y="548" width="1" height="1" fill="#ffd700"/>
<rect x="65" y="551" width="1" height="1" fill="#ffd700"/>
<text x="0" y="0" transform="translate(79.20,555.00) scale(0.87,1)" font-size="13" font-weight="normal" fill="#000" textLength="71.56" lengthAdjust="spacing" >Muito seco</text>
<rect x="66" y="563" width="5" height="5" fill="#ffff00"/>
<rect x="68" y="562" width="1" height="1" fill="#ffff00"/>
<rect x="65" y="565" width="1" height="1" fill="#ffff00"/>
<text x="0" y="0" transform="translate(79.20,569.00) scale(0.87,1)" font-size="13" font-weight="normal" fill="#000" textLength="139.70" lengthAdjust="spacing" >Moderadamente seco</text>
<rect x="66" y="578" width="5" height="5" fill="#e8e8e8"/>
<rect x="68" y="577" width="1" height="1" fill="#e8e8e8"/>
<rect x="65" y="580" width="1" height="1" fill="#e8e8e8"/>
<text x="0" y="0" transform="translate(79.20,584.00) scale(0.87,1)" font-size="13" font-weight="normal" fill="#000" textLength="110.48" lengthAdjust="spacing" >Próximo à normal</text>
<rect x="66" y="592" width="5" height="5" fill="#bfeeff"/>
<rect x="68" y="591" width="1" height="1" fill="#bfeeff"/>
<rect x="65" y="594" width="1" height="1" fill="#bfeeff"/>
<text x="0" y="0" transform="translate(79.20,598.00) scale(0.87,1)" font-size="13" font-weight="normal" fill="#000" textLength="145.66" lengthAdjust="spacing" >Moderadamente úmido</text>
<rect x="66" y="606" width="5" height="5" fill="#87cefa"/>
<rect x="68" y="605" width="1" height="1" fill="#87cefa"/>
<rect x="65" y="608" width="1" height="1" fill="#87cefa"/>
<text x="0" y="0" transform="translate(79.20,612.00) scale(0.87,1)" font-size="13" font-weight="normal" fill="#000" textLength="77.91" lengthAdjust="spacing" >Muito úmido</text>
<rect x="66" y="621" width="5" height="5" fill="#4f8fcc"/>
<rect x="68" y="620" width="1" height="1" fill="#4f8fcc"/>
<rect x="65" y="623" width="1" height="1" fill="#4f8fcc"/>
<text x="0" y="0" transform="translate(79.53,627.00) scale(0.87,1)" font-size="13" font-weight="normal" fill="#000" textLength="125.73" lengthAdjust="spacing" >Severamente úmido</text>
<rect x="66" y="635" width="5" height="5" fill="#3a5bcc"/>
<rect x="68" y="634" width="1" height="1" fill="#3a5bcc"/>
<rect x="65" y="637" width="1" height="1" fill="#3a5bcc"/>
<text x="0" y="0" transform="translate(79.20,641.00) scale(0.87,1)" font-size="13" font-weight="normal" fill="#000" textLength="159.58" lengthAdjust="spacing" >Excepcionalmente úmido</text>
<rect x="533" y="507" width="107" height="55" fill="#fff"/>
<line x1="533" y1="507.5" x2="640" y2="507.5" stroke="#000" stroke-width="1"/>
<line x1="533" y1="561.5" x2="640" y2="561.5" stroke="#000" stroke-width="1"/>
<line x1="533.5" y1="507" x2="533.5" y2="562" stroke="#000" stroke-width="1"/>
<line x1="639.5" y1="507" x2="639.5" y2="562" stroke="#000" stroke-width="1"/>
<rect x="541" y="527" width="22" height="2" fill="#000"/>
<rect x="541" y="548" width="22" height="2" fill="#ff0000"/>
<text x="572.08" y="526.00" font-size="10.2" font-weight="normal" fill="#000" textLength="27.49" lengthAdjust="spacingAndGlyphs" >Curva</text>
<text x="571.27" y="539.00" font-size="10.2" font-weight="normal" fill="#000" textLength="31.72" lengthAdjust="spacingAndGlyphs" >normal</text>
<text x="0" y="0" transform="translate(572.12,552.50) scale(0.95,1)" font-size="10.2" font-weight="normal" fill="#000" textLength="65.72" lengthAdjust="spacing" >SPI-18: 1993</text>
<text x="0" y="0" transform="translate(21.20,596.00) scale(0.87,1)" font-size="15.7" font-weight="normal" fill="#555" textLength="33.23" lengthAdjust="spacing" stroke="#555" stroke-width="0.35">0.77</text>
<text x="0" y="0" transform="translate(142.09,475.00) scale(0.92,1)" font-size="15.5" font-weight="bold" fill="#000" textLength="330.49" lengthAdjust="spacing" >Índice Padronizado de Precipitação (SPI-18)</text>
<text x="0" y="0" transform="translate(100.04,492.00) scale(0.92,1)" font-size="15.5" font-weight="bold" fill="#000" textLength="424.82" lengthAdjust="spacing" >no mês de Julho de 1993 a Dezembro de 1994: Região 53</text>
<text x="285.01" y="897.00" font-size="15.3" font-weight="normal" fill="#000" textLength="22.37" lengthAdjust="spacingAndGlyphs" >SPI</text>
<text x="0" y="0" transform="translate(407.04,889.00) scale(0.87,1)" font-size="12.6" font-weight="normal" fill="#000" textLength="146.48" lengthAdjust="spacing" >(Produto:CPTEC/INPE)</text>
<text x="0" y="0" transform="translate(11.00,752.88) rotate(-90) scale(0.87,1)" font-size="15.5" font-weight="normal" fill="#000" textLength="179.40" lengthAdjust="spacing">Probabilidade acumulada</text>
</svg></body></html>
